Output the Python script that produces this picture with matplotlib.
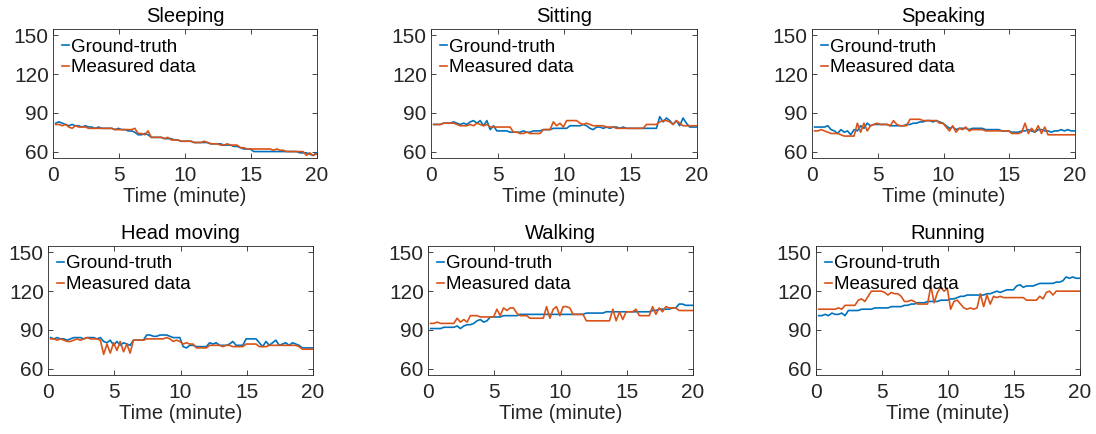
"""Heart-rate tracking under six activities: ground truth vs measured."""
import numpy as np
import matplotlib
matplotlib.use("Agg")
import matplotlib.pyplot as plt

plt.rcParams["font.family"] = ["Liberation Sans", "DejaVu Sans"]

# time samples (minutes), one every 0.25 min
t = np.arange(0.2, 20.0, 0.25)

activities = ["Sleeping", "Sitting", "Speaking", "Head moving", "Walking", "Running"]

sleeping_gt = [82, 83, 82, 81, 80, 81, 80, 80, 79, 80,
               79, 79, 78, 79, 78, 78, 78, 78, 77, 78,
               77, 77, 76, 76, 75, 73, 73, 74, 73, 71,
               71, 71, 71, 70, 70, 70, 69, 69, 68, 68,
               68, 68, 67, 67, 67, 67, 67, 66, 66, 66,
               66, 65, 65, 65, 64, 64, 63, 62, 62, 62,
               60, 60, 60, 60, 60, 60, 60, 60, 60, 60,
               60, 60, 60, 60, 59, 59, 59, 58, 57, 59]
sleeping_md = [81, 81, 80, 81, 79, 78, 80, 79, 79, 79,
               78, 78, 78, 78, 78, 78, 78, 78, 77, 77,
               77, 77, 77, 77, 78, 74, 74, 73, 76, 71,
               71, 71, 71, 70, 71, 69, 69, 69, 68, 68,
               68, 68, 67, 67, 67, 68, 67, 66, 66, 66,
               65, 65, 66, 65, 65, 65, 63, 63, 62, 62,
               62, 62, 62, 62, 62, 62, 61, 62, 61, 61,
               60, 60, 60, 60, 60, 60, 57, 59, 57, 58]

sitting_gt = [81, 81, 81, 82, 82, 82, 83, 82, 81, 82,
              81, 83, 84, 82, 84, 80, 84, 77, 80, 76,
              76, 76, 76, 75, 75, 75, 75, 76, 75, 75,
              76, 76, 76, 77, 77, 77, 78, 78, 78, 78,
              78, 80, 80, 80, 80, 81, 80, 78, 77, 79,
              79, 78, 79, 78, 79, 79, 78, 79, 78, 78,
              78, 78, 78, 78, 78, 78, 78, 78, 87, 83,
              86, 84, 81, 84, 80, 86, 82, 79, 79, 79]
sitting_md = [81, 81, 81, 82, 82, 82, 82, 81, 80, 80,
              80, 81, 80, 82, 81, 80, 81, 79, 79, 79,
              79, 79, 79, 79, 75, 75, 74, 74, 75, 74,
              74, 74, 74, 77, 77, 77, 83, 80, 82, 79,
              84, 84, 84, 84, 82, 81, 82, 81, 80, 80,
              80, 80, 79, 79, 79, 78, 78, 78, 78, 78,
              78, 78, 78, 78, 81, 81, 81, 81, 83, 84,
              84, 83, 81, 84, 82, 80, 80, 80, 80, 80]

speaking_gt = [79, 79, 79, 79, 80, 77, 76, 74, 77, 75,
               76, 73, 77, 76, 80, 78, 82, 80, 81, 81,
               81, 81, 81, 80, 80, 80, 80, 80, 81, 81,
               82, 82, 83, 83, 84, 84, 83, 84, 83, 82,
               80, 78, 79, 77, 78, 78, 78, 77, 78, 78,
               78, 78, 77, 77, 77, 77, 77, 76, 76, 76,
               75, 75, 75, 76, 76, 77, 76, 75, 77, 77,
               76, 76, 75, 76, 76, 77, 76, 77, 76, 76]
speaking_md = [76, 76, 77, 76, 75, 74, 74, 74, 73, 72,
               72, 72, 72, 82, 75, 82, 76, 80, 81, 82,
               81, 81, 81, 80, 84, 81, 80, 80, 80, 85,
               85, 85, 85, 84, 84, 84, 84, 84, 82, 82,
               79, 76, 80, 75, 78, 77, 79, 76, 77, 77,
               77, 77, 76, 76, 76, 76, 76, 76, 76, 76,
               74, 74, 74, 75, 82, 74, 78, 75, 80, 74,
               79, 73, 73, 73, 73, 73, 73, 73, 73, 73]

head_gt = [84, 83, 84, 83, 83, 82, 83, 84, 84, 84,
           83, 84, 84, 84, 83, 84, 81, 80, 82, 78,
           81, 78, 80, 79, 78, 82, 82, 82, 82, 86,
           86, 85, 85, 86, 86, 86, 85, 84, 84, 84,
           77, 76, 78, 78, 77, 77, 77, 77, 80, 79,
           80, 78, 78, 78, 79, 81, 78, 78, 78, 83,
           83, 83, 83, 80, 77, 81, 78, 80, 82, 78,
           79, 80, 78, 80, 79, 78, 76, 76, 76, 76]
head_md = [83, 83, 82, 83, 82, 81, 81, 82, 83, 82,
           83, 84, 83, 83, 83, 82, 71, 79, 72, 80,
           74, 81, 73, 79, 72, 82, 82, 82, 82, 83,
           83, 83, 83, 83, 83, 84, 83, 81, 82, 81,
           79, 80, 79, 79, 76, 76, 76, 76, 78, 78,
           78, 78, 77, 78, 78, 77, 77, 77, 77, 79,
           79, 79, 79, 77, 77, 77, 78, 78, 78, 78,
           78, 78, 78, 78, 78, 77, 75, 75, 75, 75]

walking_gt = [91, 91, 91, 91, 92, 92, 92, 92, 93, 91,
              93, 94, 94, 95, 97, 98, 96, 97, 100, 100,
              100, 100, 101, 101, 101, 101, 101, 102, 102, 102,
              102, 102, 102, 102, 102, 102, 102, 102, 102, 102,
              102, 102, 102, 102, 102, 102, 102, 103, 103, 103,
              103, 103, 103, 104, 104, 104, 104, 104, 104, 104,
              104, 104, 104, 104, 104, 104, 104, 105, 105, 106,
              106, 106, 106, 107, 107, 110, 110, 109, 109, 109]
walking_md = [95, 95, 96, 95, 95, 95, 95, 95, 99, 96,
              98, 96, 101, 101, 101, 100, 100, 100, 100, 100,
              106, 101, 107, 105, 107, 107, 103, 101, 101, 101,
              99, 99, 99, 99, 99, 108, 99, 106, 108, 101,
              108, 108, 107, 102, 102, 102, 102, 97, 97, 97,
              97, 97, 97, 97, 97, 106, 97, 104, 98, 104,
              104, 104, 106, 101, 101, 101, 101, 108, 102, 107,
              104, 108, 107, 107, 107, 105, 105, 105, 105, 105]

running_gt = [101, 101, 102, 101, 103, 102, 102, 103, 101, 105,
              105, 105, 105, 106, 106, 106, 106, 107, 107, 107,
              107, 107, 108, 108, 108, 108, 109, 109, 110, 110,
              111, 111, 111, 112, 112, 112, 112, 113, 113, 113,
              114, 114, 115, 116, 116, 117, 117, 117, 117, 117,
              117, 118, 118, 119, 120, 119, 120, 121, 121, 121,
              124, 125, 123, 124, 124, 124, 125, 126, 126, 126,
              126, 126, 127, 127, 128, 131, 130, 131, 130, 130]
running_md = [106, 106, 106, 106, 106, 106, 107, 106, 109, 109,
              109, 109, 113, 114, 112, 116, 120, 120, 120, 120,
              119, 117, 119, 118, 118, 116, 112, 112, 113, 112,
              110, 110, 110, 110, 124, 111, 119, 123, 120, 122,
              106, 112, 113, 110, 107, 106, 107, 106, 107, 118,
              108, 117, 110, 116, 115, 116, 115, 115, 115, 115,
              115, 115, 115, 113, 113, 113, 113, 116, 114, 119,
              120, 117, 120, 120, 120, 120, 120, 120, 120, 120]

ground_truth = [sleeping_gt, sitting_gt, speaking_gt, head_gt, walking_gt, running_gt]
measured = [sleeping_md, sitting_md, speaking_md, head_md, walking_md, running_md]

BLUE = "#0072BD"
ORANGE = "#D95319"
INK = "#262626"

# axes boxes in pixels: left, top, right, bottom
boxes = [(53, 29, 317, 158), (431, 29, 697, 158), (812, 29, 1075, 158),
         (48, 246, 313, 375), (428, 246, 693, 375), (816, 246, 1080, 375)]

W, H = 1096, 434
fig = plt.figure(figsize=(W / 100, H / 100), dpi=100)

for name, gt, md, (l, tp, r, b) in zip(activities, ground_truth, measured, boxes):
    ax = fig.add_axes([l / W, (H - b) / H, (r - l) / W, (b - tp) / H])
    ax.plot(t, gt, color=BLUE, lw=1.2, label="Ground-truth")
    ax.plot(t, md, color=ORANGE, lw=1.2, label="Measured data")
    ax.set_xlim(0, 20)
    ax.set_ylim(55, 155)
    ax.set_xticks([0, 5, 10, 15, 20])
    ax.set_yticks([60, 90, 120, 150])
    ax.tick_params(direction="in", length=3.5, width=0.6, top=True, right=True,
                   labelsize=15, colors=INK)
    ax.tick_params(axis="x", pad=6)
    ax.tick_params(axis="y", pad=3)
    for sp in ax.spines.values():
        sp.set_color(INK)
        sp.set_linewidth(0.6)
    ax.set_title(name, fontsize=14.5, pad=5, color="black")
    ax.set_xlabel("Time (minute)", fontsize=14.5, color=INK, labelpad=1.5)
    ax.legend(loc="upper left", frameon=False, fontsize=13.5, handlelength=0.35,
              handletextpad=0.1, borderaxespad=0.3, labelspacing=0.2,
              borderpad=0.2)

fig.savefig("out.png", dpi=100)
